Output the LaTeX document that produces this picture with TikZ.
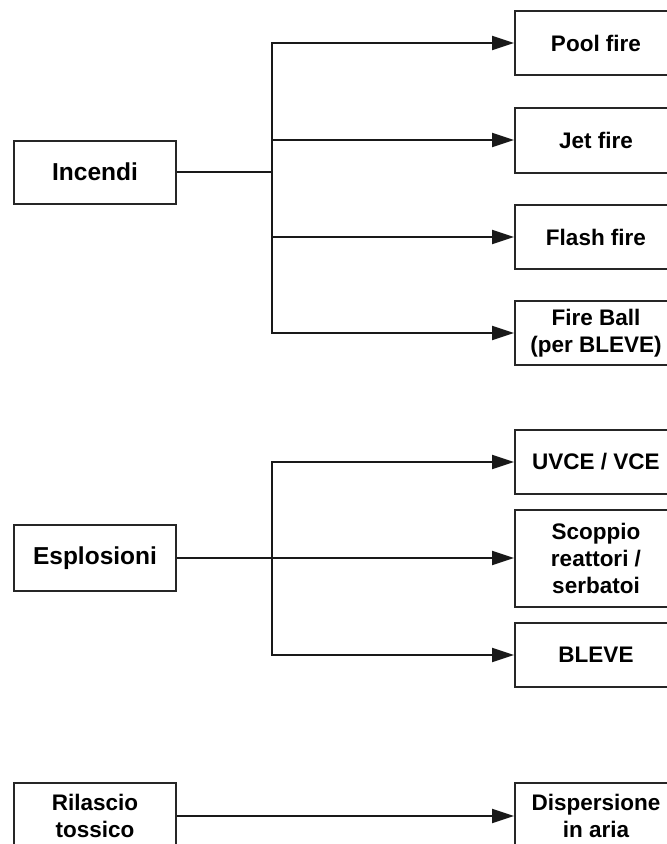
\documentclass[tikz,border=0pt]{standalone}
\usepackage{fontspec}
\setmainfont{Liberation Sans}
\usetikzlibrary{arrows.meta}
\begin{document}
\begin{tikzpicture}[x=1pt,y=-1pt,
  box/.style={draw=black!85, line width=2pt, rectangle, fill=white,
    minimum width=162pt, align=center, inner sep=0pt,
    font=\fontsize{22.5}{27}\selectfont\bfseries},
  bigbox/.style={box, font=\fontsize{24.5}{27}\selectfont\bfseries},
  link/.style={draw=black!90, line width=2pt, line join=miter},
  arr/.style={link, -{Triangle[length=22pt,width=14pt]}}]
  \useasboundingbox (0,0) rectangle (667,844);
  \clip (0,0) rectangle (667,844);

  % sources
  \node[bigbox, minimum height=63pt] (incendi) at (95,172) {Incendi};
  \node[bigbox, minimum height=66pt] (esplosioni) at (95,558) {Esplosioni};
  \node[box, minimum height=66pt] (rilascio) at (95,816) {Rilascio\\tossico};

  % fire scenarios
  \node[box, minimum height=64pt] (pool) at (596,43) {Pool fire};
  \node[box, minimum height=65pt] (jet) at (596,140) {Jet fire};
  \node[box, minimum height=64pt] (flash) at (596,237) {Flash fire};
  \node[box, minimum height=64pt] (fireball) at (596,333) {Fire Ball\\(per BLEVE)};

  % explosion scenarios
  \node[box, minimum height=64pt] (uvce) at (596,462) {UVCE / VCE};
  \node[box, minimum height=97pt] (scoppio) at (596,558) {Scoppio\\reattori /\\serbatoi};
  \node[box, minimum height=64pt] (bleve) at (596,655) {BLEVE};

  % toxic release
  \node[box, minimum height=66pt] (dispersione) at (596,816) {Dispersione\\in aria};

  % branching points on the vertical trunks
  \coordinate (ti) at (272,172);
  \coordinate (te) at (272,558);

  \draw[link] (incendi.east) -- (ti);
  \draw[arr] (ti) |- (pool.west);
  \draw[arr] (ti) |- (jet.west);
  \draw[arr] (ti) |- (flash.west);
  \draw[arr] (ti) |- (fireball.west);

  \draw[arr] (esplosioni.east) -- (scoppio.west);
  \draw[arr] (te) |- (uvce.west);
  \draw[arr] (te) |- (bleve.west);

  \draw[arr] (rilascio.east) -- (dispersione.west);
\end{tikzpicture}
\end{document}
